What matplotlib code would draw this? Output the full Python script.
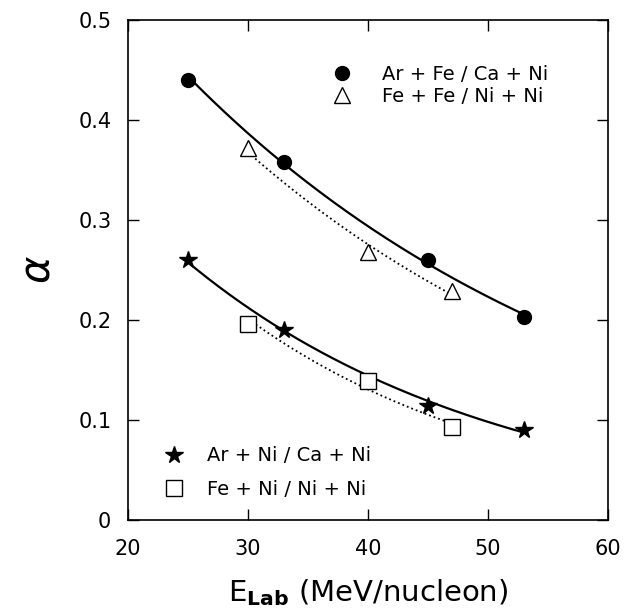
import numpy as np
import matplotlib.pyplot as plt

e_circ = [25, 33, 45, 53]
a_circ = [0.440, 0.358, 0.260, 0.203]
e_tri = [30, 40, 47]
a_tri = [0.372, 0.268, 0.229]
e_star = [25, 33, 45, 53]
a_star = [0.260, 0.190, 0.114, 0.090]
e_sq = [30, 40, 47]
a_sq = [0.196, 0.139, 0.093]

labels = ['Ar + Fe / Ca + Ni', 'Fe + Fe / Ni + Ni',
          'Ar + Ni / Ca + Ni', 'Fe + Ni / Ni + Ni']


def exp_fit(x, y):
    # exponential fit (straight line in log) drawn over the range of the points
    c = np.polyfit(x, np.log(y), 1)
    xs = np.linspace(min(x), max(x), 200)
    return xs, np.exp(np.polyval(c, xs))


fig = plt.figure(figsize=(6.29, 6.09), dpi=100)
ax = fig.add_axes([128 / 629, 89 / 609, 480 / 629, 500 / 609])

for x, y, ls in [(e_circ, a_circ, '-'), (e_star, a_star, '-'),
                 (e_tri, a_tri, ':'), (e_sq, a_sq, ':')]:
    xs, ys = exp_fit(x, y)
    ax.plot(xs, ys, color='black', ls=ls, lw=1.6 if ls == '-' else 1.3)

h1, = ax.plot(e_circ, a_circ, 'o', color='black', ms=10, ls='none')
h2, = ax.plot(e_tri, a_tri, '^', mfc='white', mec='black', mew=1.0, ms=11, ls='none')
h3, = ax.plot(e_star, a_star, '*', color='black', ms=13, ls='none')
h4, = ax.plot(e_sq, a_sq, 's', mfc='white', mec='black', mew=1.0, ms=11, ls='none')

leg1 = ax.legend([h1, h2], labels[:2], loc='upper left', bbox_to_anchor=(0.38, 0.945),
                 frameon=False, fontsize=14, handletextpad=1.3, labelspacing=0.15,
                 handlelength=1.5)
ax.add_artist(leg1)
ax.legend([h3, h4], labels[2:], loc='lower left', bbox_to_anchor=(0.028, 0.007),
          frameon=False, fontsize=14, handletextpad=0.95, labelspacing=0.75,
          handlelength=1.5)

ax.set_xlim(20, 60)
ax.set_ylim(0, 0.5)
ax.set_xticks([20, 30, 40, 50, 60])
ax.set_yticks([0, 0.1, 0.2, 0.3, 0.4, 0.5])
ax.set_yticklabels(['0', '0.1', '0.2', '0.3', '0.4', '0.5'])
ax.tick_params(direction='in', length=8, width=1.0, labelsize=15,
               top=True, right=True)
ax.tick_params(axis='x', pad=14)
ax.tick_params(axis='y', pad=12)
for s in ax.spines.values():
    s.set_linewidth(1.2)

ax.set_xlabel(r'E$_{\mathbf{Lab}}$ (MeV/nucleon)', fontsize=21, labelpad=13)
ax.set_ylabel(r'$\alpha$', fontsize=30, labelpad=14)

fig.savefig('out.png', dpi=100)
